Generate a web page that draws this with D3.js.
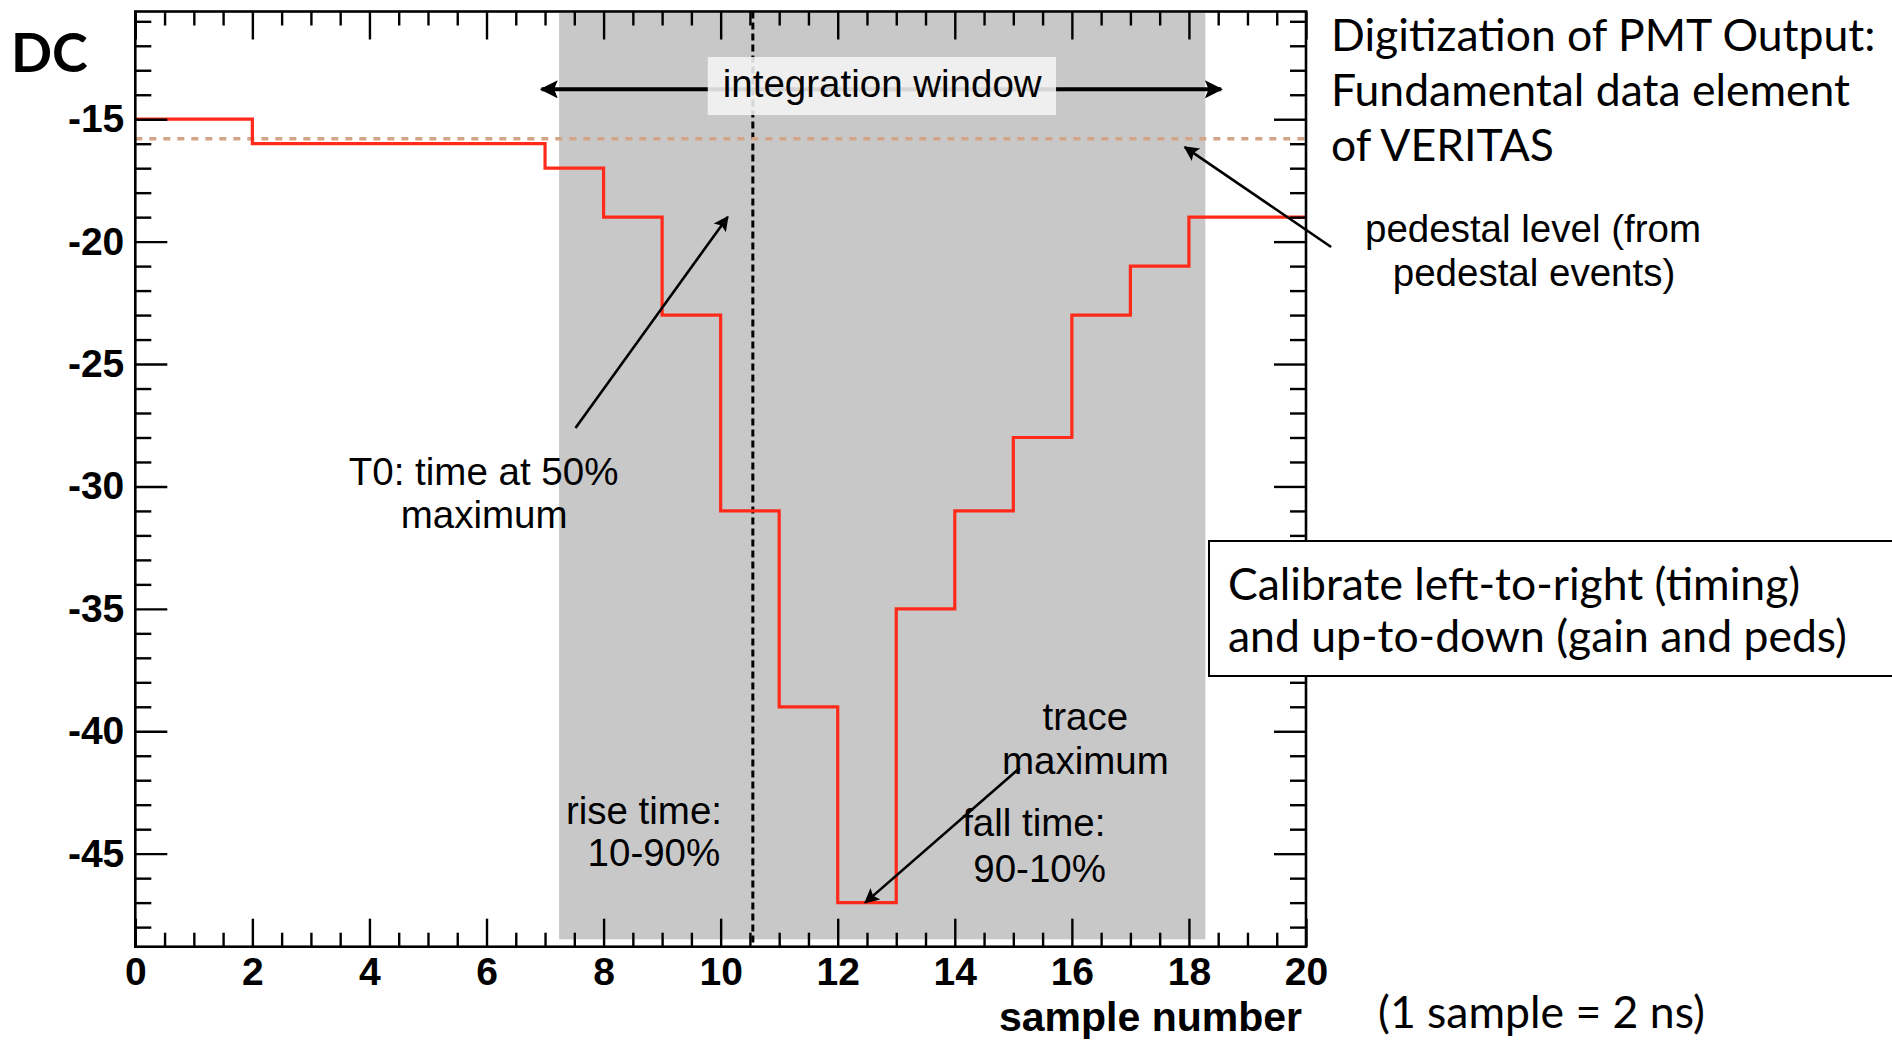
<!DOCTYPE html>
<html>
<head>
<meta charset="utf-8">
<script src="https://cdn.jsdelivr.net/npm/d3@7"></script>
<style>
  body { margin: 0; background: #fff; }
  svg { display: block; }
</style>
</head>
<body>
<svg id="trace_chart" width="1892" height="1042"></svg>
<script>
// FADC trace: one DC value per sample bin (bin i spans i..i+1)
const samples = [0,1,2,3,4,5,6,7,8,9,10,11,12,13,14,15,16,17,18,19];
const traceDC = [-15,-15,-16,-16,-16,-16,-16,-17,-19,-23,-31,-39,-47,-35,-31,-28,-23,-21,-19,-19];

const xTicks = [0,2,4,6,8,10,12,14,16,18,20];
const yTicks = [-45,-40,-35,-30,-25,-20,-15];
const xDomain = [0, 20];
const yDomain = [-48.8, -10.6];

const pedestalDC = -15.8;
const integrationWindow = [7.24, 18.28];
const t0Sample = 10.55;

// annotations, in (sample, DC) units
const arrowNotes = [
    { from: [7.52, -27.61], to: [10.12, -18.99] },   // T0
    { from: [15.11, -41.5], to: [12.47, -47.0] },    // trace maximum
    { from: [20.43, -20.22], to: [17.93, -16.14] }   // pedestal level
];
const textNotes = [
    { x: 5.95, y: -29.94, text: 'T0: time at 50%' },
    { x: 5.96, y: -31.70, text: 'maximum' },
    { x: 8.69, y: -43.79, text: 'rise time:' },
    { x: 8.86, y: -45.50, text: '10-90%' },
    { x: 16.23, y: -39.95, text: 'trace' },
    { x: 16.23, y: -41.76, text: 'maximum' },
    { x: 15.35, y: -44.28, text: 'fall time:' },
    { x: 15.45, y: -46.15, text: '90-10%' }
];

let svg, margin, innerWidth, innerHeight, xScale, yScale, g;
const helv = '"Liberation Sans", Arial, Helvetica, sans-serif';
const slideFont = 'Lato, "Open Sans", sans-serif';

document.addEventListener('DOMContentLoaded', function() {
    svg = d3.select('#trace_chart');
    margin = { top: 11.5, bottom: 95.3, left: 135.3, right: 586 };
    innerWidth = +svg.attr('width') - margin.left - margin.right;
    innerHeight = +svg.attr('height') - margin.top - margin.bottom;

    draw_trace_chart();
    draw_slide_text();
});

function draw_trace_chart() {
    xScale = d3.scaleLinear().domain(xDomain).range([0, innerWidth]);
    yScale = d3.scaleLinear().domain(yDomain).range([innerHeight, 0]);

    g = svg.append('g')
        .attr('transform', 'translate(' + margin.left + ',' + margin.top + ')');

    const defs = svg.append('defs');
    addHead(defs, 'head', 22, 15);
    addHead(defs, 'bighead', 24, 18);

    // integration window (grey band)
    g.append('rect')
        .attr('x', xScale(integrationWindow[0]))
        .attr('y', 1.5)
        .attr('width', xScale(integrationWindow[1]) - xScale(integrationWindow[0]))
        .attr('height', yScale(-48.5) - 1.5)
        .attr('fill', '#c8c8c8');

    // T0 line
    g.append('line')
        .attr('x1', xScale(t0Sample)).attr('x2', xScale(t0Sample))
        .attr('y1', 0).attr('y2', innerHeight)
        .attr('stroke', '#000').attr('stroke-width', 3)
        .attr('stroke-dasharray', '7,4');

    // integration window arrow + label
    g.append('line')
        .attr('x1', xScale(6.94)).attr('x2', xScale(18.55))
        .attr('y1', yScale(-13.78)).attr('y2', yScale(-13.78))
        .attr('stroke', '#000').attr('stroke-width', 4)
        .attr('marker-start', 'url(#bighead)')
        .attr('marker-end', 'url(#bighead)');
    g.append('rect')
        .attr('x', xScale(9.78))
        .attr('y', yScale(-12.46))
        .attr('width', xScale(15.73) - xScale(9.78))
        .attr('height', yScale(-14.83) - yScale(-12.46))
        .attr('fill', '#f4f4f4').attr('opacity', 0.88);
    g.append('text')
        .attr('x', xScale(12.76)).attr('y', yScale(-14.08))
        .attr('text-anchor', 'middle')
        .attr('font-family', helv).attr('font-size', 38.5)
        .text('integration window');

    // pedestal level
    g.append('line')
        .attr('x1', 0).attr('x2', innerWidth)
        .attr('y1', yScale(pedestalDC)).attr('y2', yScale(pedestalDC))
        .attr('stroke', '#d4a486').attr('stroke-width', 3.5)
        .attr('stroke-dasharray', '7,7');

    // the trace, drawn as a step histogram
    const pts = samples.map((s, i) => [s, traceDC[i]]);
    pts.push([samples[samples.length - 1] + 1, traceDC[traceDC.length - 1]]);
    const line = d3.line()
        .x(d => xScale(d[0]))
        .y(d => yScale(d[1]))
        .curve(d3.curveStepAfter);
    g.append('path')
        .datum(pts)
        .attr('d', line)
        .attr('fill', 'none')
        .attr('stroke', '#ff2a1a')
        .attr('stroke-width', 3.2);

    // ticks on all four sides
    const xMinor = d3.range(0, 20.01, 0.5).filter(v => v % 2 !== 0);
    const yMinor = d3.range(-48, -10, 1).filter(v => v % 5 !== 0);

    addAxis(d3.axisBottom, xScale, xTicks, 28, 'translate(0,' + innerHeight + ')', true);
    addAxis(d3.axisBottom, xScale, xMinor, 14, 'translate(0,' + innerHeight + ')', false);
    addAxis(d3.axisTop, xScale, xTicks, 28, 'translate(0,0)', false);
    addAxis(d3.axisTop, xScale, xMinor, 14, 'translate(0,0)', false);
    addAxis(d3.axisLeft, yScale, yTicks, 32, 'translate(0,0)', true);
    addAxis(d3.axisLeft, yScale, yMinor, 16, 'translate(0,0)', false);
    addAxis(d3.axisRight, yScale, yTicks, 32, 'translate(' + innerWidth + ',0)', false);
    addAxis(d3.axisRight, yScale, yMinor, 16, 'translate(' + innerWidth + ',0)', false);

    // frame
    g.append('rect')
        .attr('width', innerWidth).attr('height', innerHeight)
        .attr('fill', 'none').attr('stroke', '#000').attr('stroke-width', 2.6);

    // axis title
    g.append('text')
        .attr('x', innerWidth - 4)
        .attr('y', innerHeight + 84)
        .attr('text-anchor', 'end')
        .attr('font-family', helv).attr('font-weight', 'bold').attr('font-size', 41)
        .text('sample number');

    // arrows and labels
    g.selectAll('.note-arrow')
        .data(arrowNotes)
        .enter()
        .append('line')
        .attr('class', 'note-arrow')
        .attr('x1', d => xScale(d.from[0])).attr('y1', d => yScale(d.from[1]))
        .attr('x2', d => xScale(d.to[0])).attr('y2', d => yScale(d.to[1]))
        .attr('stroke', '#000').attr('stroke-width', 2.6)
        .attr('marker-end', 'url(#head)');

    g.selectAll('.note-text')
        .data(textNotes)
        .enter()
        .append('text')
        .attr('class', 'note-text')
        .attr('x', d => xScale(d.x)).attr('y', d => yScale(d.y))
        .attr('text-anchor', 'middle')
        .attr('font-family', helv).attr('font-size', 38.5)
        .text(d => d.text);

    // pedestal text sits right of the frame
    const ped = g.append('text')
        .attr('text-anchor', 'middle')
        .attr('font-family', helv).attr('font-size', 38.5);
    ped.append('tspan').attr('x', 1533 - margin.left).attr('y', 242 - margin.top).text('pedestal level (from');
    ped.append('tspan').attr('x', 1534 - margin.left).attr('y', 286 - margin.top).text('pedestal events)');
}

function addHead(defs, id, w, h) {
    defs.append('marker')
        .attr('id', id)
        .attr('viewBox', '0 0 10 10')
        .attr('refX', 9).attr('refY', 5)
        .attr('markerWidth', w).attr('markerHeight', h)
        .attr('markerUnits', 'userSpaceOnUse')
        .attr('orient', 'auto-start-reverse')
        .append('path')
        .attr('d', 'M0,0 L10,5 L0,10 L2,5 z')
        .attr('fill', '#000');
}

function addAxis(axisFn, scale, values, size, translate, labels) {
    const axis = axisFn(scale)
        .tickValues(values)
        .tickSize(-size)
        .tickSizeOuter(0)
        .tickPadding(11)
        .tickFormat(d => String(d));   // plain hyphen, not the unicode minus
    const ga = g.append('g').attr('transform', translate).call(axis);
    ga.select('.domain').remove();
    ga.selectAll('line').attr('stroke', '#000').attr('stroke-width', 2.4);
    if (!labels) {
        ga.selectAll('text').remove();
    } else {
        ga.attr('font-family', helv).attr('font-size', 39).attr('font-weight', 'bold');
        ga.selectAll('text').attr('fill', '#000');
    }
    return ga;
}

function draw_slide_text() {
    svg.append('text')
        .attr('x', 11).attr('y', 72)
        .attr('font-family', slideFont).attr('font-weight', 'bold').attr('font-size', 54)
        .text('DC');

    const head = svg.append('text')
        .attr('font-family', slideFont).attr('font-size', 44.5);
    [['Digitization of PMT Output:', 51], ['Fundamental data element', 106], ['of VERITAS', 161]]
        .forEach(l => head.append('tspan').attr('x', 1331).attr('y', l[1]).text(l[0]));

    svg.append('rect')
        .attr('x', 1209).attr('y', 541)
        .attr('width', 720).attr('height', 135)
        .attr('fill', '#fff').attr('stroke', '#000').attr('stroke-width', 2);
    const cal = svg.append('text')
        .attr('font-family', slideFont).attr('font-size', 44.5);
    [['Calibrate left-to-right (timing)', 600], ['and up-to-down (gain and peds)', 652]]
        .forEach(l => cal.append('tspan').attr('x', 1228).attr('y', l[1]).text(l[0]));

    svg.append('text')
        .attr('x', 1378).attr('y', 1028)
        .attr('font-family', slideFont).attr('font-size', 44.5)
        .text('(1 sample = 2 ns)');
}
</script>
</body>
</html>
